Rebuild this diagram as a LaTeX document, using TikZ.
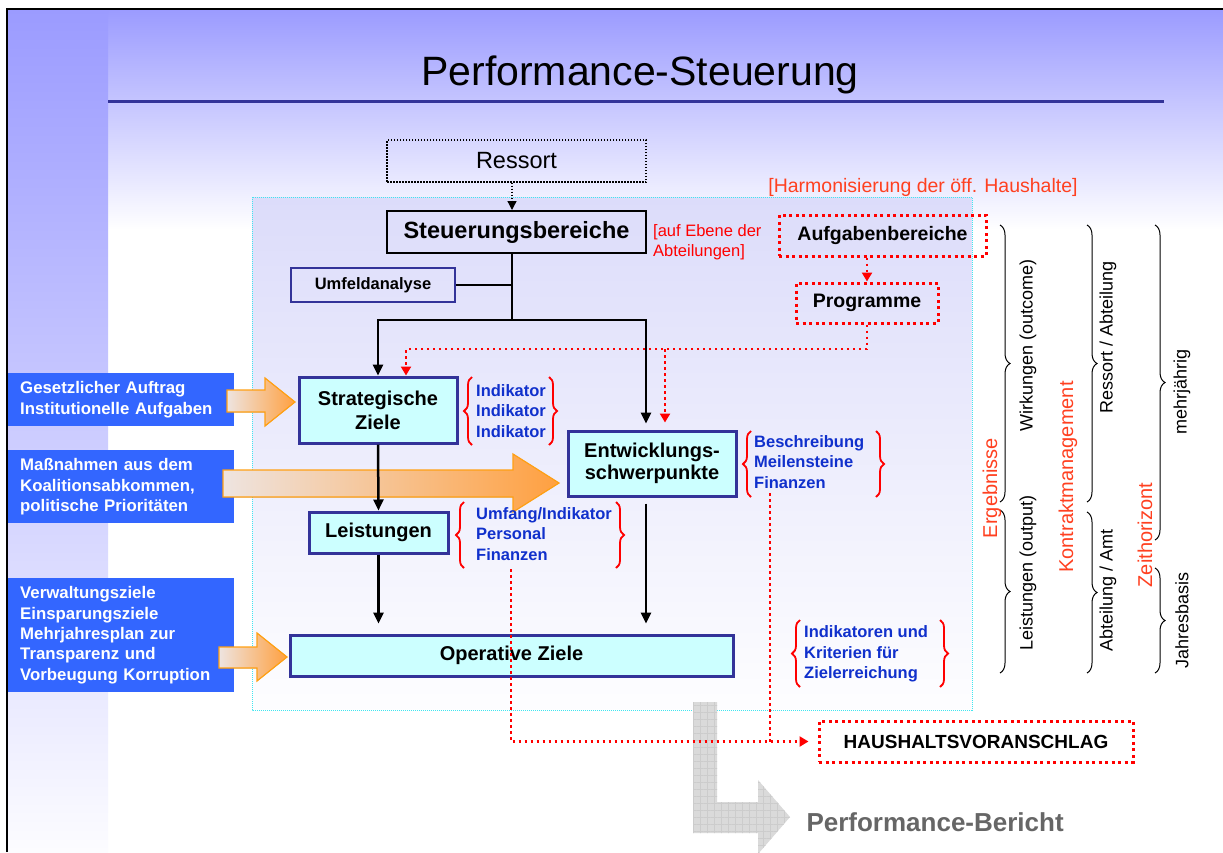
\documentclass[tikz,border=0pt]{standalone}
\usepackage{fontspec}
\setmainfont{Liberation Sans}
\usetikzlibrary{arrows.meta,positioning,decorations.pathreplacing,patterns.meta}

\definecolor{navyrand}{RGB}{51,51,153}
\definecolor{zielfill}{RGB}{204,255,255}
\definecolor{listblau}{RGB}{16,48,204}
\definecolor{hinweisrot}{RGB}{255,64,32}
\definecolor{kastenblau}{RGB}{51,102,255}
\definecolor{lila}{RGB}{155,155,255}
\definecolor{lavendel}{RGB}{220,220,250}
\definecolor{orangerand}{RGB}{255,160,20}
\definecolor{orangehell}{RGB}{238,228,224}
\definecolor{orangevoll}{RGB}{255,160,64}
\definecolor{punktcyan}{RGB}{64,230,240}
\definecolor{pfeilgrau}{RGB}{218,218,218}

\tikzset{
  ziel/.style={draw=navyrand, line width=3pt, fill=zielfill, align=center, inner sep=0pt,
    font=\fontsize{20}{24}\selectfont\bfseries},
  stufe/.style={draw=black, line width=2pt, inner sep=0pt, font=\fontsize{23.5}{28}\selectfont\bfseries},
  rotkasten/.style={draw=red, line width=3pt, dash pattern=on 3pt off 3.5pt, inner sep=0pt,
    font=\fontsize{19.5}{23}\selectfont\bfseries},
  liste/.style={text=listblau, align=left, inner sep=0pt, anchor=west,
    font=\fontsize{16.5}{20.5}\selectfont\bfseries},
  quelle/.style={fill=kastenblau, text=white, align=left, anchor=north west, inner xsep=12pt,
    inner ysep=0pt, text width=202pt, font=\fontsize{16.8}{20.3}\selectfont\bfseries},
  linie/.style={line width=2.5pt},
  pfeil/.style={linie, -{Triangle[length=11pt,width=10pt]}},
  rotlinie/.style={red, line width=2.5pt, dash pattern=on 2.5pt off 3.5pt},
  rotpfeil/.style={rotlinie, -{Triangle[length=9pt,width=10pt]}},
  klammer/.style={draw=red, line width=1.8pt, decorate, decoration={brace, amplitude=8pt}},
  sklammer/.style={draw=black, line width=1pt, decorate, decoration={brace, amplitude=10pt}},
  achse/.style={rotate=90, inner sep=0pt, font=\fontsize{18}{21}\selectfont},
  achsrot/.style={rotate=90, inner sep=0pt, text=hinweisrot, font=\fontsize{20}{24}\selectfont},
  orangepfeil/.style={left color=orangehell, right color=orangevoll, draw=orangerand, line width=1.2pt},
}

\begin{document}
\begin{tikzpicture}[x=1pt, y=-1pt]
  \useasboundingbox (0,0) rectangle (1223,852);

  % hintergrund
  \fill[white] (0,0) rectangle (1223,852);
  \shade[top color=lila, bottom color=white] (108,9) rectangle (1223,230);
  \shade[top color=lila, bottom color=white!97!lila] (7,9) rectangle (108,852);
  \draw[line width=2.5pt] (7,852) -- (7,9) -- (1223,9);

  % titel
  \node[font=\fontsize{41}{48}\selectfont] (titel) at (640,75) {Performance-Steuerung};
  \draw[navyrand, line width=3pt] (108,101) -- (1164,101);

  % rahmen der abteilungsebene
  \draw[punktcyan, line width=1pt, dash pattern=on 1pt off 1pt, top color=lavendel,
    bottom color=white!96!lavendel] (252,197) rectangle (972,710);

  % quellen links
  \node[quelle, minimum height=53pt] (auftrag) at (8,373) {Gesetzlicher Auftrag\\Institutionelle Aufgaben};
  \node[quelle, minimum height=73pt] (koalition) at (8,450) {Maßnahmen aus dem\\Koalitionsabkommen,\\politische Prioritäten};
  \node[quelle, minimum height=114pt] (verwaltung) at (8,578) {Verwaltungsziele\\Einsparungsziele\\Mehrjahresplan zur\\Transparenz und\\Vorbeugung Korruption};

  % orange pfeile
  \filldraw[orangepfeil] (227,390) -- (265,390) -- (265,378) -- (295,402) -- (265,426) -- (265,412) -- (227,412) -- cycle;
  \filldraw[orangepfeil] (223,470) -- (513,470) -- (513,454) -- (559,483) -- (513,512) -- (513,497) -- (223,497) -- cycle;
  \filldraw[orangepfeil] (219,647) -- (257,647) -- (257,633) -- (287,657) -- (257,681) -- (257,668) -- (219,668) -- cycle;

  % grauer pfeil
  \fill[pfeilgrau] (693,702) -- (717,702) -- (717,802) -- (758,802) -- (758,780) -- (790,817)
    -- (758,854) -- (758,833) -- (693,833) -- cycle;
  \fill[pattern={Hatch[angle=0,distance=7pt,line width=0.4pt]}, pattern color=gray!40]
    (693,702) -- (717,702) -- (717,802) -- (758,802) -- (758,780) -- (790,817)
    -- (758,854) -- (758,833) -- (693,833) -- cycle;
  \node[anchor=west, text=black!60, font=\fontsize{26}{30}\selectfont\bfseries] (bericht) at (803,822) {Performance-Bericht};

  % kaesten
  \node[draw, line width=1.3pt, dash pattern=on 1.5pt off 1.5pt, minimum width=259pt, minimum height=42pt,
    inner sep=0pt, font=\fontsize{23.5}{28}\selectfont] (ressort) at (516.5,161) {Ressort};
  \node[stufe, minimum width=259pt, minimum height=42pt] (steuer) at (516.5,232) {Steuerungsbereiche};
  \node[draw=navyrand, line width=1.5pt, minimum width=164pt, minimum height=34pt, inner sep=0pt,
    font=\fontsize{16.5}{20}\selectfont\bfseries] (umfeld) at (373,285) {Umfeldanalyse};
  \node[ziel, minimum width=158pt, minimum height=66pt] (strat) at (378,410) {Strategische\\Ziele};
  \node[ziel, minimum width=139pt, minimum height=41pt] (leist) at (378.5,532.5) {Leistungen};
  \node[ziel, minimum width=168pt, minimum height=65pt, font=\fontsize{20}{21.5}\selectfont\bfseries]
    (entw) at (652,463.5) {Entwicklungs-\\schwerpunkte};
  \node[ziel, minimum width=443pt, minimum height=41pt] (oper) at (511.5,655.5) {Operative Ziele};
  \node[rotkasten, minimum width=207pt, minimum height=41pt] (aufg) at (882.5,235.5) {Aufgabenbereiche};
  \node[rotkasten, minimum width=142pt, minimum height=40pt] (prog) at (867,303) {Programme};
  \node[rotkasten, minimum width=314pt, minimum height=41pt, font=\fontsize{19}{23}\selectfont\bfseries]
    (haushalt) at (976,741.5) {HAUSHALTSVORANSCHLAG};

  % rote hinweise
  \node[text=hinweisrot, font=\fontsize{19.5}{23}\selectfont] (harmon) at (923,187) {[Harmonisierung der öff. Haushalte]};
  \node[text=red, anchor=west, align=left, inner sep=0pt, font=\fontsize{16.5}{19.5}\selectfont]
    (ebene) at (653,242) {[auf Ebene der\\Abteilungen]};

  % listen mit klammern
  \node[liste] (indik) at (476,411) {Indikator\\Indikator\\Indikator};
  \draw[klammer] (472,445) -- (472,377);
  \draw[klammer] (549,377) -- (549,445);
  \node[liste] (umfang) at (476,534) {Umfang/Indikator\\Personal\\Finanzen};
  \draw[klammer] (464,568) -- (464,502);
  \draw[klammer] (616,502) -- (616,568);
  \node[liste] (beschr) at (754,462) {Beschreibung\\Meilensteine\\Finanzen};
  \draw[klammer] (751,497) -- (751,431);
  \draw[klammer] (876,431) -- (876,497);
  \node[liste] (kriterien) at (804,654) {Indikatoren und\\Kriterien für\\Zielerreichung};
  \draw[klammer] (800,687) -- (800,620);
  \draw[klammer] (940,620) -- (940,687);

  % verbindungen
  \coordinate (knoten) at (512,320);
  \draw[line width=1.3pt, dash pattern=on 1.5pt off 1.5pt, -{Triangle[length=9pt,width=9pt]}]
    (ressort.south -| knoten) -- (steuer.north -| knoten);
  \draw[linie] (steuer.south -| knoten) -- (knoten);
  \draw[linie] (umfeld.east) -- (umfeld.east -| knoten);
  \draw[pfeil] (knoten) -| (strat.north);
  \draw[pfeil, shorten >=6pt] (knoten) -| ([xshift=-6pt]entw.north);
  \draw[pfeil] (strat.south) -- (leist.north);
  \draw[pfeil, shorten >=10pt] (leist.south) -- (leist.south |- oper.north);
  \draw[pfeil, shorten <=6pt, shorten >=10pt] ([xshift=-6pt]entw.south) -- ([xshift=-6pt]entw.south |- oper.north);

  \coordinate (rotknick) at (867,349);
  \draw[rotpfeil] (aufg.south -| prog.north) -- (prog.north);
  \draw[rotlinie] (prog.south) -- (rotknick);
  \draw[rotpfeil] (rotknick) -| ([xshift=28pt]strat.north);
  \draw[rotpfeil, shorten >=7pt] ([xshift=13pt]entw.north |- rotknick) -- ([xshift=13pt]entw.north);

  \coordinate (umfangfuss) at (511,569);
  \coordinate (beschrfuss) at (770,493);
  \draw[rotpfeil, shorten >=9pt] (umfangfuss) |- (haushalt.west);
  \draw[rotlinie] (beschrfuss) -- (beschrfuss |- haushalt.west);

  % klammern rechts
  \draw[sklammer] (1000,225) -- (1000,502);
  \draw[sklammer] (1000,510) -- (1000,673);
  \draw[sklammer] (1087,225) -- (1087,502);
  \draw[sklammer] (1087,512) -- (1087,673);
  \draw[sklammer] (1155,225) -- (1155,540);
  \draw[sklammer] (1155,568) -- (1155,673);
  \node[achse] (wirkung) at (1028,345) {Wirkungen (outcome)};
  \node[achse] (leistung) at (1028,573) {Leistungen (output)};
  \node[achsrot] (ergebnis) at (992,488) {Ergebnisse};
  \node[achse] (ressabt) at (1108,337) {Ressort / Abteilung};
  \node[achse] (abtamt) at (1108,590) {Abteilung / Amt};
  \node[achsrot] (kontrakt) at (1068,477) {Kontraktmanagement};
  \node[achse] (mehrj) at (1182,392) {mehrjährig};
  \node[achse] (jahr) at (1182,620) {Jahresbasis};
  \node[achsrot] (zeit) at (1145,535) {Zeithorizont};
\end{tikzpicture}
\end{document}
